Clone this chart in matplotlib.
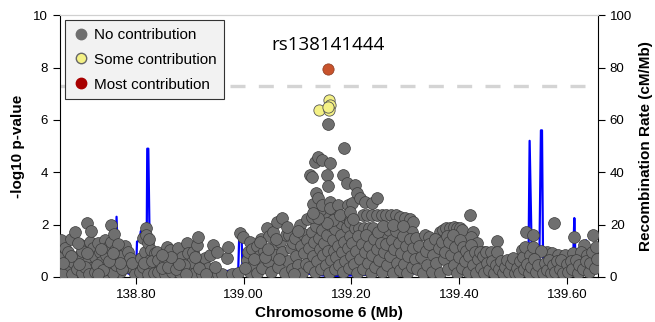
import matplotlib
matplotlib.use("Agg")
import matplotlib.pyplot as plt
from matplotlib.ticker import FormatStrFormatter
from matplotlib.lines import Line2D
import numpy as np

plt.rcParams['font.family'] = ['Liberation Sans', 'DejaVu Sans']

# SNPs (position in Mb, -log10 p)
left_flank = [
    (138.661, 1.40), (138.663, 0.76), (138.668, 1.10), (138.668, 0.46), (138.674, 0.95), (138.674, 0.27),
    (138.679, 1.45), (138.683, 0.57), (138.687, 1.72), (138.698, 1.22), (138.702, 0.95), (138.707, 0.65),
    (138.709, 2.06), (138.715, 1.33), (138.717, 1.76), (138.720, 1.10), (138.717, 0.34), (138.724, 0.76),
    (138.729, 1.30), (138.733, 0.95), (138.735, 0.57), (138.742, 1.40), (138.744, 0.84), (138.748, 1.15),
    (138.752, 0.38), (138.754, 2.00), (138.754, 1.33), (138.759, 1.64), (138.761, 1.03), (138.767, 0.72),
    (138.770, 0.19), (138.776, 0.84), (138.780, 1.18), (138.785, 0.95), (138.785, 0.38), (138.789, 0.72),
    (138.794, 0.34), (138.663, 0.10), (138.681, 0.12), (138.690, 0.30), (138.700, 0.15), (138.705, 0.40),
    (138.712, 0.10), (138.724, 0.18), (138.740, 0.12), (138.745, 0.30), (138.757, 0.15), (138.763, 0.45),
    (138.775, 0.30), (138.798, 0.10), (138.690, 0.75), (138.695, 0.50), (138.727, 0.45), (138.738, 0.25),
    (138.771, 0.55), (138.680, 0.80), (138.736, 1.05), (138.766, 1.25), (138.792, 0.55), (138.700, 1.00),
    (138.664, 0.55), (138.750, 0.60), (138.730, 0.10), (138.693, 1.30), (138.710, 0.90), (138.758, 0.90),
    (138.807, 0.19), (138.809, 0.72), (138.813, 1.50), (138.813, 0.38), (138.817, 0.95), (138.819, 1.87),
    (138.822, 1.30), (138.826, 0.65), (138.828, 1.03), (138.831, 0.34), (138.835, 0.91), (138.822, 0.12),
    (138.815, 0.55), (138.833, 0.15), (138.830, 0.60), (138.819, 1.60), (138.825, 1.45),
]

mid_flank = [
    (138.839, 0.95), (138.841, 0.65), (138.841, 0.20), (138.854, 0.53), (138.854, 0.12), (138.858, 1.15),
    (138.863, 1.03), (138.867, 0.20), (138.872, 0.57), (138.878, 1.10), (138.882, 0.15), (138.885, 0.76),
    (138.895, 1.30), (138.896, 0.91), (138.900, 0.30), (138.904, 0.57), (138.906, 0.95), (138.909, 0.15),
    (138.913, 1.22), (138.915, 1.53), (138.922, 0.53), (138.922, 0.12), (138.928, 0.72), (138.933, 0.34),
    (138.937, 0.84), (138.941, 0.12), (138.943, 1.22), (138.950, 0.95), (138.952, 0.10), (138.959, 0.10),
    (138.969, 0.72), (138.971, 1.15), (138.978, 0.10), (138.989, 0.15), (138.848, 0.35), (138.860, 0.40),
    (138.875, 0.30), (138.890, 0.45), (138.893, 0.12), (138.917, 0.35), (138.930, 0.12), (138.946, 0.40),
    (138.880, 0.50), (138.866, 0.75), (138.910, 0.75), (138.848, 0.85),
    (138.993, 1.68), (138.998, 1.53), (139.006, 0.65), (139.008, 0.95), (139.011, 1.33), (139.011, 0.20),
    (139.015, 1.05), (139.018, 0.45), (139.024, 1.20), (139.024, 0.15), (139.028, 0.80), (139.032, 1.45),
    (139.035, 0.35), (139.038, 1.00), (139.043, 1.87), (139.045, 0.60), (139.048, 1.55), (139.050, 0.20),
    (139.054, 1.70), (139.056, 1.15), (139.058, 0.85), (139.062, 2.10), (139.064, 0.40), (139.068, 1.35),
    (139.071, 2.25), (139.072, 0.95), (139.076, 0.15), (139.078, 1.60), (139.082, 0.60), (139.085, 1.60),
    (139.088, 1.10), (139.090, 0.30), (139.091, 1.30), (139.095, 1.50), (139.097, 0.80), (139.100, 0.45),
    (139.104, 2.00), (139.106, 1.20), (139.108, 0.15), (139.110, 1.65), (139.112, 0.90), (139.115, 0.50),
    (139.117, 2.20), (139.118, 1.40), (139.002, 0.35), (139.020, 0.70), (139.040, 0.75), (139.066, 0.70),
    (139.093, 0.10), (139.030, 1.35), (139.046, 1.05), (139.080, 1.90), (139.060, 1.45), (139.100, 1.75),
]

peak = [
    (139.121, 1.10), (139.122, 0.40), (139.127, 1.70), (139.129, 0.80), (139.131, 1.35), (139.133, 0.20),
    (139.135, 1.95), (139.137, 0.60), (139.140, 1.50), (139.141, 1.05), (139.143, 0.30), (139.146, 1.80),
    (139.148, 0.85), (139.150, 1.30), (139.152, 0.45), (139.155, 1.60), (139.157, 1.00), (139.158, 0.15),
    (139.161, 2.00), (139.162, 0.65), (139.165, 1.40), (139.167, 1.00), (139.169, 0.30), (139.170, 1.85),
    (139.172, 0.75), (139.175, 1.20), (139.177, 0.45), (139.180, 1.60), (139.181, 2.05), (139.183, 0.95),
    (139.185, 0.20), (139.187, 1.35), (139.189, 0.60), (139.191, 1.90), (139.193, 1.10), (139.195, 0.35),
    (139.197, 1.55), (139.199, 0.80), (139.170, 2.40), (139.150, 2.35), (139.142, 2.55), (139.188, 2.30),
    (139.123, 3.90), (139.126, 3.80), (139.126, 2.30), (139.128, 2.80), (139.132, 4.40), (139.135, 3.20),
    (139.138, 4.60), (139.138, 3.00), (139.145, 4.47), (139.145, 2.75), (139.154, 3.90), (139.156, 3.47),
    (139.156, 5.84), (139.160, 4.35), (139.160, 2.86), (139.160, 2.63), (139.175, 2.75), (139.184, 3.90),
    (139.186, 4.92), (139.191, 3.60), (139.193, 2.75), (139.165, 2.18), (139.178, 2.37), (139.197, 2.18),
    (139.154, 2.06), (139.138, 2.25), (139.128, 2.44),
]

right_shoulder = [
    (139.201, 2.82), (139.197, 2.48), (139.197, 2.10), (139.206, 3.50), (139.210, 3.20), (139.216, 3.00),
    (139.225, 2.86), (139.238, 2.82), (139.247, 3.00), (139.221, 2.37), (139.229, 2.37), (139.238, 2.37),
    (139.247, 2.37), (139.256, 2.37), (139.264, 2.37), (139.273, 2.37), (139.282, 2.35), (139.290, 2.30),
    (139.299, 2.25), (139.308, 2.20), (139.314, 2.10), (139.206, 1.87), (139.214, 1.87), (139.223, 1.87),
    (139.232, 1.87), (139.240, 1.87), (139.262, 1.60), (139.312, 1.72), (139.203, 2.20),
    (139.202, 1.30), (139.204, 0.50), (139.208, 1.00), (139.211, 0.15), (139.213, 1.55), (139.216, 0.70),
    (139.219, 1.25), (139.221, 0.30), (139.225, 0.95), (139.227, 1.60), (139.230, 0.55), (139.233, 1.20),
    (139.236, 0.15), (139.238, 0.85), (139.242, 1.45), (139.244, 0.40), (139.247, 1.05), (139.250, 1.70),
    (139.252, 0.65), (139.255, 1.30), (139.257, 0.20), (139.260, 0.95), (139.265, 1.25), (139.267, 0.45),
    (139.270, 1.80), (139.272, 0.80), (139.275, 1.40), (139.278, 0.15), (139.280, 1.05), (139.283, 1.75),
    (139.285, 0.55), (139.288, 1.30), (139.291, 0.25), (139.293, 0.90), (139.296, 1.55), (139.298, 0.50),
    (139.301, 1.20), (139.304, 0.15), (139.306, 0.80), (139.309, 1.45), (139.312, 0.40), (139.315, 1.10),
    (139.318, 0.70), (139.320, 1.50), (139.258, 1.95), (139.278, 2.00), (139.295, 1.95),
]

right_flank = [
    (139.336, 1.60), (139.345, 1.53), (139.364, 1.72), (139.370, 1.80), (139.375, 1.87), (139.383, 1.87),
    (139.390, 1.90), (139.397, 1.87), (139.401, 1.87), (139.405, 1.80), (139.421, 2.37), (139.425, 1.72),
    (139.423, 1.53), (139.433, 1.30), (139.470, 1.37), (139.447, 0.95),
    (139.322, 0.30), (139.326, 1.20), (139.330, 0.75), (139.333, 0.15), (139.338, 1.00), (139.341, 0.45),
    (139.345, 1.25), (139.349, 0.20), (139.352, 0.85), (139.355, 1.45), (139.358, 0.55), (139.362, 1.10),
    (139.365, 0.15), (139.368, 1.35), (139.372, 0.70), (139.374, 0.95), (139.377, 1.55), (139.379, 0.30),
    (139.381, 1.33), (139.385, 0.85), (139.388, 1.60), (139.390, 0.45), (139.393, 1.15), (139.396, 0.15),
    (139.399, 0.75), (139.402, 1.40), (139.405, 0.35), (139.408, 1.15), (139.411, 0.60), (139.413, 1.00),
    (139.416, 0.20), (139.419, 0.80), (139.422, 1.22), (139.426, 0.45), (139.429, 0.95), (139.432, 0.15),
    (139.436, 0.70), (139.438, 0.95), (139.441, 0.35), (139.444, 0.80), (139.447, 0.15), (139.450, 0.95),
    (139.452, 0.55), (139.456, 0.25), (139.459, 0.95), (139.462, 0.60), (139.465, 0.15), (139.468, 0.45),
    (139.471, 0.95), (139.474, 0.30), (139.478, 0.60), (139.481, 0.15), (139.485, 0.40), (139.489, 0.65),
    (139.492, 0.20), (139.496, 0.50), (139.500, 0.72), (139.503, 0.15), (139.507, 0.35), (139.511, 0.15),
    (139.514, 0.60), (139.517, 1.03),
    (139.518, 0.76), (139.522, 1.15), (139.525, 1.72), (139.531, 0.84), (139.537, 1.60), (139.537, 1.15),
    (139.577, 2.06), (139.614, 1.53), (139.649, 1.60), (139.632, 1.22), (139.564, 0.95), (139.573, 0.91),
    (139.584, 0.84), (139.597, 0.84), (139.612, 0.91), (139.627, 0.95), (139.638, 0.84), (139.553, 1.00),
    (139.520, 0.30), (139.527, 0.50), (139.530, 0.15), (139.534, 0.40), (139.540, 0.70), (139.543, 0.20),
    (139.547, 0.45), (139.556, 0.15), (139.560, 0.55), (139.563, 0.25), (139.567, 0.65), (139.570, 0.15),
    (139.575, 0.45), (139.579, 0.20), (139.581, 0.60), (139.587, 0.30), (139.590, 0.65), (139.593, 0.15),
    (139.600, 0.50), (139.603, 0.20), (139.607, 0.60), (139.610, 0.30), (139.617, 0.65), (139.620, 0.15),
    (139.623, 0.45), (139.630, 0.30), (139.635, 0.60), (139.641, 0.20), (139.644, 0.55), (139.647, 0.95),
    (139.652, 0.35), (139.655, 1.15), (139.657, 0.70),
]

# credible-set SNPs
some_pos = [139.140, 139.158, 139.160, 139.158, 139.157]
some_logp = [6.37, 6.76, 6.56, 6.37, 6.50]
lead_pos = [139.157]
lead_logp = [7.93]
lead_name = "rs138141444"

# recombination rate (Mb, cM/Mb)
recomb_pos = [138.659, 138.700, 138.762, 138.764, 138.767, 138.790, 138.800, 138.802, 138.807, 138.809,
              138.812, 138.814, 138.820, 138.821, 138.823, 138.826, 138.840, 138.842, 138.872, 138.875,
              138.905, 138.907, 138.930, 138.935, 138.990, 138.992, 138.996, 138.998, 139.050, 139.130,
              139.160, 139.250, 139.400, 139.470, 139.510, 139.529, 139.531, 139.535, 139.549, 139.552,
              139.554, 139.556, 139.570, 139.612, 139.614, 139.616, 139.630, 139.636, 139.638, 139.658]
recomb_rate = [1, 0.5, 2, 23, 3, 1, 0.5, 13.5, 14, 17.5,
               17, 14, 14, 49, 49, 5, 5, 8.4, 8, 2,
               3, 7.6, 7, 1, 3, 17, 17, 2, 3, 1,
               0.3, 1, 2, 0.3, 0.5, 8, 52, 8, 6, 56,
               56, 5, 5, 8, 22.5, 8, 8, 14, 10, 10]

gwas_threshold = 7.3

grey_pts = np.array(left_flank + mid_flank + peak + right_shoulder + right_flank)

fig = plt.figure(figsize=(6.55, 3.22), dpi=100)
ax = fig.add_axes([0.0916, 0.1398, 0.8214, 0.8132])
ax2 = ax.twinx()
ax.set_zorder(ax2.get_zorder() + 1)
ax.patch.set_visible(False)

ax2.plot(recomb_pos, recomb_rate, color='#0000ff', lw=1.6, zorder=1)
ax2.set_ylim(0, 100)
ax2.set_yticks([0, 20, 40, 60, 80, 100])
ax2.set_ylabel('Recombination Rate (cM/Mb)', fontsize=11, fontweight='bold', labelpad=5)

ax.axhline(gwas_threshold, color='#d4d4d4', lw=2.4, linestyle=(0, (4.5, 4)), zorder=1)

ax.scatter(grey_pts[:, 0], grey_pts[:, 1], s=72, c='#6f6f6f', edgecolors='#3c3c3c', linewidths=0.5, zorder=3)
ax.scatter(some_pos, some_logp, s=66, c='#f4f185', edgecolors='#555555', linewidths=0.6, zorder=4)
ax.scatter(lead_pos, lead_logp, s=66, c='#c8532c', edgecolors='#8a3a20', linewidths=0.5, zorder=5)
ax.text(lead_pos[0], 8.85, lead_name, ha='center', va='center', fontsize=13.5, family='Open Sans')

ax.set_xlim(138.659, 139.658)
ax.set_ylim(0, 10)
ax.set_xticks([138.8, 139.0, 139.2, 139.4, 139.6])
ax.xaxis.set_major_formatter(FormatStrFormatter('%.2f'))
ax.set_yticks([0, 2, 4, 6, 8, 10])
ax.set_xlabel('Chromosome 6 (Mb)', fontsize=11, fontweight='bold', labelpad=4)
ax.set_ylabel('-log10 p-value', fontsize=11, fontweight='bold', labelpad=6)

for a in (ax, ax2):
    a.tick_params(labelsize=9.5, length=5, width=0.8)
    a.spines['top'].set_color('#d0d0d0')
    a.spines['top'].set_linewidth(0.8)
ax.spines['right'].set_visible(False)
ax2.spines['left'].set_visible(False)
ax2.spines['right'].set_linewidth(0.8)
ax.spines['left'].set_linewidth(0.8)
ax.spines['bottom'].set_linewidth(0.8)

handles = [
    Line2D([], [], marker='o', ls='', markersize=7.5, markerfacecolor='#6f6f6f', markeredgecolor='#6f6f6f', label='No contribution'),
    Line2D([], [], marker='o', ls='', markersize=7.5, markerfacecolor='#f4f185', markeredgecolor='#666666', label='Some contribution'),
    Line2D([], [], marker='o', ls='', markersize=7.5, markerfacecolor='#a80000', markeredgecolor='#a80000', label='Most contribution'),
]
leg = ax.legend(handles=handles, loc='upper left', bbox_to_anchor=(0.0, 1.0), borderaxespad=0.35, fontsize=11,
                frameon=True, fancybox=False, edgecolor='#333333', facecolor='#f2f2f2', framealpha=1,
                handletextpad=0.35, handlelength=1.0, borderpad=0.5, labelspacing=0.7)
leg.get_frame().set_linewidth(0.8)
leg.set_zorder(10)

fig.savefig('out.png', dpi=100)
